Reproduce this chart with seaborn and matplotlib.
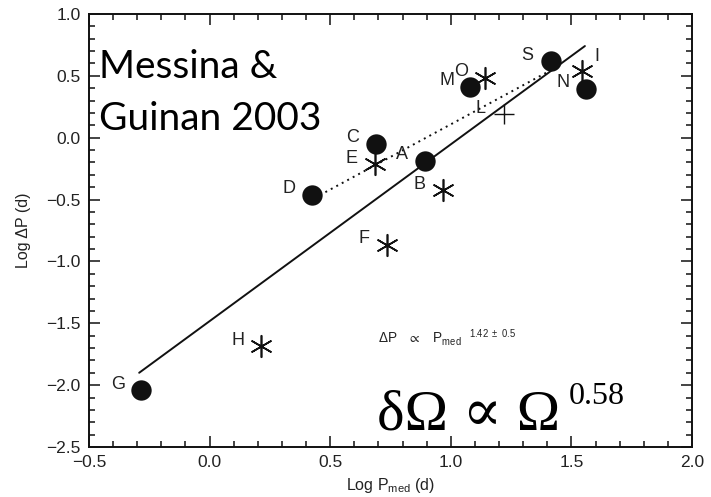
import matplotlib
matplotlib.use("Agg")
import matplotlib.pyplot as plt
import seaborn as sns
import pandas as pd
from matplotlib.ticker import MultipleLocator

# ---- data ----
circle_labels = ["D", "C", "A", "M", "S", "N", "G"]
circle_x = [0.426, 0.69, 0.891, 1.078, 1.414, 1.56, -0.285]
circle_y = [-0.463, -0.05, -0.186, 0.41, 0.62, 0.394, -2.04]

star_labels = ["E", "O", "I", "B", "F", "H"]
star_x = [0.684, 1.14, 1.543, 0.966, 0.736, 0.213]
star_y = [-0.213, 0.483, 0.54, -0.423, -0.867, -1.684]

plus_labels = ["L"]
plus_x = [1.219]
plus_y = [0.19]

fit_x = [-0.292, 1.556]
fit_y = [-1.90, 0.741]

dot_x = [0.48, 1.40]
dot_y = [-0.44, 0.53]

x_ticks = [-0.5, 0.0, 0.5, 1.0, 1.5, 2.0]
y_ticks = [-2.5, -2.0, -1.5, -1.0, -0.5, 0.0, 0.5, 1.0]

sns.set_theme(style="ticks")
plt.rcParams["font.family"] = ["Liberation Sans", "DejaVu Sans"]
plt.rcParams["mathtext.fontset"] = "custom"
plt.rcParams["mathtext.rm"] = "Liberation Sans"
plt.rcParams["mathtext.it"] = "Liberation Sans"
plt.rcParams["mathtext.fallback"] = "stixsans"

fig = plt.figure(figsize=(7.11, 4.97), dpi=100)
ax = fig.add_axes([89 / 711, 50 / 497, 603 / 711, 433 / 497])

ink = "#111111"

# lines
sns.lineplot(x=fit_x, y=fit_y, ax=ax, color=ink, linewidth=1.4, estimator=None, sort=False)
sns.lineplot(x=dot_x, y=dot_y, ax=ax, color=ink, linewidth=1.4, estimator=None, sort=False,
             linestyle=(0, (1, 2.2)))

# markers
sns.scatterplot(x=circle_x, y=circle_y, ax=ax, marker="o", s=215, color=ink,
                edgecolor=ink, linewidth=0, zorder=5)
sns.scatterplot(x=star_x, y=star_y, ax=ax, marker=(6, 2, 0), s=240, color=ink,
                linewidth=1.2, zorder=5)
sns.scatterplot(x=plus_x, y=plus_y, ax=ax, marker="+", s=220, color=ink,
                linewidth=1.0, zorder=5)

# point labels
default_off = (-23, 6)
special_off = {"I": (15, 14)}
for labs, xs, ys in [(circle_labels, circle_x, circle_y),
                     (star_labels, star_x, star_y),
                     (plus_labels, plus_x, plus_y)]:
    for lab, xv, yv in zip(labs, xs, ys):
        off = special_off.get(lab, default_off)
        ax.annotate(lab, xy=(xv, yv), xytext=off, textcoords="offset pixels",
                    ha="center", va="center", fontsize=13, color="#222222")

# axes
ax.set_xlim(-0.5, 2.0)
ax.set_ylim(-2.5, 1.0)
ax.set_xticks(x_ticks)
ax.set_yticks(y_ticks)
ax.set_xticklabels([f"{v:.1f}".replace("-", "\u2212") for v in x_ticks])
ax.set_yticklabels([f"{v:.1f}".replace("-", "\u2212") for v in y_ticks])
ax.xaxis.set_minor_locator(MultipleLocator(0.1))
ax.yaxis.set_minor_locator(MultipleLocator(0.1))
ax.tick_params(which="both", direction="in", top=True, right=True, color=ink, width=1.1)
ax.tick_params(which="major", length=8, labelsize=12.5, labelcolor="#222222", pad=6)
ax.tick_params(which="minor", length=4)
for sp in ax.spines.values():
    sp.set_linewidth(1.4)
    sp.set_color(ink)
    sp.set_visible(True)

ax.set_xlabel(r"Log P$_{\mathrm{med}}$ (d)", fontsize=11.5, color="#222222", labelpad=4)
ax.set_ylabel("Log \u0394P (d)", fontsize=11.5, color="#222222", labelpad=11)

# annotations
ax.text(0.017, 0.852, "Messina &", transform=ax.transAxes, fontsize=28,
        family=["Lato", "DejaVu Sans"], fontweight="normal", color="black",
        va="baseline", ha="left")
ax.text(0.017, 0.732, "Guinan 2003", transform=ax.transAxes, fontsize=28,
        family=["Lato", "DejaVu Sans"], fontweight="normal", color="black",
        va="baseline", ha="left")

ax.text(0.4776, 0.0393, "\u03b4\u03a9 \u221d \u03a9", transform=ax.transAxes, fontsize=42,
        family=["Liberation Serif", "DejaVu Serif"], color="black", va="baseline", ha="left")
ax.text(0.796, 0.0993, "0.58", transform=ax.transAxes, fontsize=23,
        family=["Liberation Serif", "DejaVu Serif"], color="black", va="baseline", ha="left")

ax.text(0.479, 0.240,
        r"$\mathrm{\Delta P}\ \ \ \propto\ \ \ \mathrm{P}_{\mathrm{med}}{}^{\ \ \ 1.42\ \pm\ 0.5}$",
        transform=ax.transAxes, fontsize=9.8, color="#222222", va="baseline", ha="left")

fig.savefig("out.png", dpi=100)
